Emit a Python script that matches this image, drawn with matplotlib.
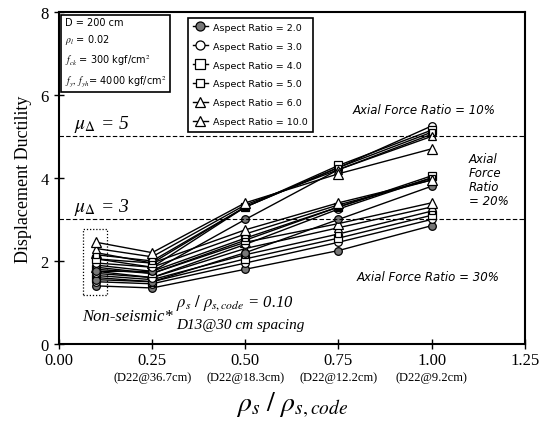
import matplotlib
matplotlib.use("Agg")
import matplotlib.pyplot as plt
from matplotlib.patches import Rectangle

plt.rcParams["mathtext.fontset"] = "stix"

# steel ratio (rho_s / rho_s,code)
x = [0.10, 0.25, 0.50, 0.75, 1.00]

aspect = ["2.0", "3.0", "4.0", "5.0", "6.0", "10.0"]

# displacement ductility, rows = aspect ratio 2,3,4,5,6,10
axial_10 = [
    [1.75, 1.75, 3.00, 4.20, 5.05],
    [1.95, 1.85, 3.30, 4.25, 5.25],
    [2.05, 1.95, 3.30, 4.30, 5.15],
    [2.15, 2.00, 3.30, 4.25, 5.10],
    [2.30, 2.10, 3.35, 4.20, 5.00],
    [2.45, 2.20, 3.40, 4.10, 4.70],
]
axial_20 = [
    [1.55, 1.50, 2.20, 3.00, 3.80],
    [1.70, 1.60, 2.40, 3.25, 4.00],
    [1.80, 1.70, 2.50, 3.30, 4.05],
    [1.90, 1.75, 2.55, 3.30, 4.00],
    [2.05, 1.85, 2.65, 3.35, 3.95],
    [2.20, 1.95, 2.75, 3.40, 3.95],
]
axial_30 = [
    [1.40, 1.35, 1.80, 2.25, 2.85],
    [1.50, 1.45, 1.95, 2.45, 3.00],
    [1.60, 1.50, 2.05, 2.55, 3.10],
    [1.65, 1.55, 2.15, 2.65, 3.20],
    [1.75, 1.60, 2.30, 2.80, 3.30],
    [1.85, 1.70, 2.45, 2.90, 3.40],
]

xticks = [0.00, 0.25, 0.50, 0.75, 1.00, 1.25]
bar_labels = ["(D22@36.7cm)", "(D22@18.3cm)", "(D22@12.2cm)", "(D22@9.2cm)"]

markers = ["o", "o", "s", "s", "^", "^"]
faces = ["#777777", "white", "white", "white", "white", "white"]
msizes = [5.5, 5.5, 5.5, 5, 6, 6.5]

serif = "Liberation Serif"

fig = plt.figure(figsize=(5.41, 4.27), dpi=100)
ax = fig.add_axes([0.109, 0.192, 0.861, 0.778])

for group in [axial_30, axial_20, axial_10]:
    for i, ys in enumerate(group):
        ax.plot(x, ys, color="black", lw=1.0, marker=markers[i], ms=msizes[i],
                mfc=faces[i], mec="black", mew=0.9)

# legend handles
handles = []
for i, a in enumerate(aspect):
    h, = ax.plot([], [], color="black", lw=1.0, marker=markers[i], ms=msizes[i] + 1,
                 mfc=faces[i], mec="black", mew=0.9, label="Aspect Ratio = " + a)
    handles.append(h)
leg = ax.legend(handles=handles, loc="upper left", bbox_to_anchor=(0.266, 0.997),
                fancybox=False, edgecolor="black", framealpha=1, fontsize=6.8,
                handlelength=1.6, labelspacing=1.05, borderpad=0.55,
                handletextpad=0.5)
leg.get_frame().set_linewidth(1.2)

# parameters box
params = ("D = 200 cm\n"
          r"$\rho_l$ = 0.02" "\n"
          r"$f_{ck}$ = 300 kgf/cm$^2$" "\n"
          r"$f_y,\ f_{yh}$= 4000 kgf/cm$^2$")
ax.text(0.012, 0.985, params, transform=ax.transAxes, va="top", ha="left",
        fontsize=7, linespacing=1.55,
        bbox=dict(boxstyle="square,pad=0.4", fc="white", ec="black", lw=1.2))

# design ductility levels
ax.axhline(5, color="black", ls=(0, (4, 2)), lw=0.8)
ax.axhline(3, color="black", ls=(0, (4, 2)), lw=0.8)
ax.text(0.04, 5.2, r"$\mu_\Delta$ = 5", fontsize=14, family=serif, style="italic")
ax.text(0.04, 3.2, r"$\mu_\Delta$ = 3", fontsize=14, family=serif, style="italic")

ax.text(0.98, 5.65, "Axial Force Ratio = 10%", style="italic", fontsize=8.5,
        ha="center", va="center")
ax.text(1.10, 3.95, "Axial\nForce\nRatio\n= 20%", style="italic", fontsize=8.5,
        ha="left", va="center", linespacing=1.1)
ax.text(0.99, 1.63, "Axial Force Ratio = 30%", style="italic", fontsize=8.5,
        ha="center", va="center")

# non-seismic note
ax.add_patch(Rectangle((0.065, 1.17), 0.064, 1.59, fill=False, ec="black",
                       ls=(0, (1, 1.5)), lw=0.9))
ax.text(0.185, 0.68, "Non-seismic*", family=serif, style="italic", fontsize=12,
        ha="center", va="center")
ax.text(0.315, 1.02, r"$\rho_s\ /\ \rho_{s,code}$ = 0.10", family=serif,
        style="italic", fontsize=12, ha="left", va="center")
ax.text(0.315, 0.47, "D13@30 cm spacing", family=serif, style="italic",
        fontsize=11, ha="left", va="center")

ax.set_xlim(0, 1.25)
ax.set_ylim(0, 8)
ax.set_xticks(xticks)
ax.set_xticklabels(["%.2f" % t for t in xticks], family=serif, fontsize=12)
ax.set_yticks([0, 2, 4, 6, 8])
ax.set_yticklabels(["0", "2", "4", "6", "8"], family=serif, fontsize=12)
ax.tick_params(direction="inout", length=7, width=1.0, pad=2)
ax.tick_params(axis="y", pad=4)
for s in ax.spines.values():
    s.set_linewidth(1.5)

for t, lab in zip(xticks[1:5], bar_labels):
    ax.text(t, -0.8, lab, family=serif, fontsize=9, ha="center", va="center")

ax.set_ylabel("Displacement Ductility", family=serif, fontsize=13, labelpad=6)
ax.set_xlabel(r"$\rho_s\ /\ \rho_{s,code}$", fontsize=20, labelpad=16)

fig.savefig("out.png", dpi=100)
